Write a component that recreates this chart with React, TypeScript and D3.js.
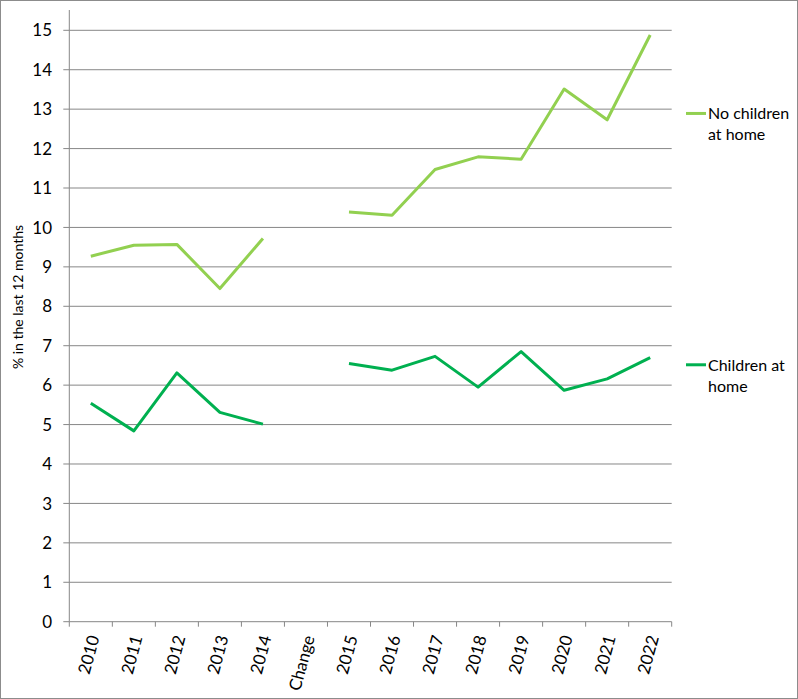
import React from "react";
import * as d3 from "d3";

const categories = ["2010", "2011", "2012", "2013", "2014", "Change", "2015", "2016", "2017", "2018", "2019", "2020", "2021", "2022"];
const noChildren: (number | null)[] = [9.27, 9.55, 9.57, 8.45, 9.72, null, 10.39, 10.31, 11.47, 11.79, 11.73, 13.51, 12.73, 14.88];
const withChildren: (number | null)[] = [5.54, 4.84, 6.31, 5.31, 5.01, null, 6.55, 6.38, 6.73, 5.95, 6.85, 5.87, 6.16, 6.70];
const yTicks = [0, 1, 2, 3, 4, 5, 6, 7, 8, 9, 10, 11, 12, 13, 14, 15];
const yTitle = "% in the last 12 months";
const seriesNames = [["No children", "at home"], ["Children at", "home"]];
const colors = ["#92D050", "#00B050"];

const W = 798;
const H = 699;
const left = 69.3;
const right = 671.7;
const bottom = 621.7;
const top15 = 30.3;
const axisTop = 10;
const FONT = "Lato, 'Open Sans', sans-serif";

export default function App() {
  const x = d3.scaleBand<string>().domain(categories).range([left, right]);
  const y = d3.scaleLinear().domain([0, 15]).range([bottom, top15]);
  const line = d3
    .line<number | null>()
    .defined((d) => d != null)
    .x((_, i) => (x(categories[i]) as number) + x.bandwidth() / 2)
    .y((d) => y(d as number));

  const series = [noChildren, withChildren];
  const legendY = [y(13.0) + 4.3, y(6.6) + 3.3];

  return (
    <>
      <style>{`body{margin:0}`}</style>
      <svg width={W} height={H} style={{ display: "block", fontFamily: FONT }}>
        <rect x={0.5} y={0.5} width={W - 1} height={H - 1} fill="#fff" stroke="#8c8c8c" />
        {yTicks.map((t) => (
          <g key={t}>
            {t > 0 && <line x1={left} x2={right} y1={y(t)} y2={y(t)} stroke="#878787" strokeWidth={1} />}
            <line x1={left - 6} x2={left} y1={y(t)} y2={y(t)} stroke="#878787" />
            <text x={52} y={y(t)} dy="0.36em" textAnchor="end" fontSize={17} fill="#000">
              {t}
            </text>
          </g>
        ))}
        <line x1={left} x2={left} y1={axisTop} y2={bottom} stroke="#878787" />
        <line x1={left} x2={right} y1={bottom} y2={bottom} stroke="#878787" />
        {categories.map((c, i) => (
          <line key={"t" + i} x1={x(c) as number} x2={x(c) as number} y1={bottom} y2={bottom + 5} stroke="#878787" />
        ))}
        <line x1={right} x2={right} y1={bottom} y2={bottom + 5} stroke="#878787" />
        {categories.map((c) => {
          const cx = (x(c) as number) + x.bandwidth() / 2;
          return (
            <text
              key={c}
              transform={`translate(${cx + 3},${bottom + 14}) rotate(-75)`}
              textAnchor="end"
              dy="0.35em"
              fontSize={17}
              fill="#000"
            >
              {c}
            </text>
          );
        })}
        <text
          transform={`translate(18,297) rotate(-90)`}
          textAnchor="middle"
          dy="0.35em"
          fontSize={14}
          fill="#000"
        >
          {yTitle}
        </text>
        {series.map((s, i) => (
          <path key={i} d={line(s) || ""} fill="none" stroke={colors[i]} strokeWidth={3} strokeLinejoin="round" />
        ))}
        {seriesNames.map((names, i) => (
          <g key={i}>
            <line x1={686} x2={706} y1={legendY[i]} y2={legendY[i]} stroke={colors[i]} strokeWidth={3} />
            {names.map((n, j) => (
              <text key={j} x={708} y={legendY[i] + 6 + j * 21} fontSize={16} fill="#000">
                {n}
              </text>
            ))}
          </g>
        ))}
      </svg>
    </>
  );
}
